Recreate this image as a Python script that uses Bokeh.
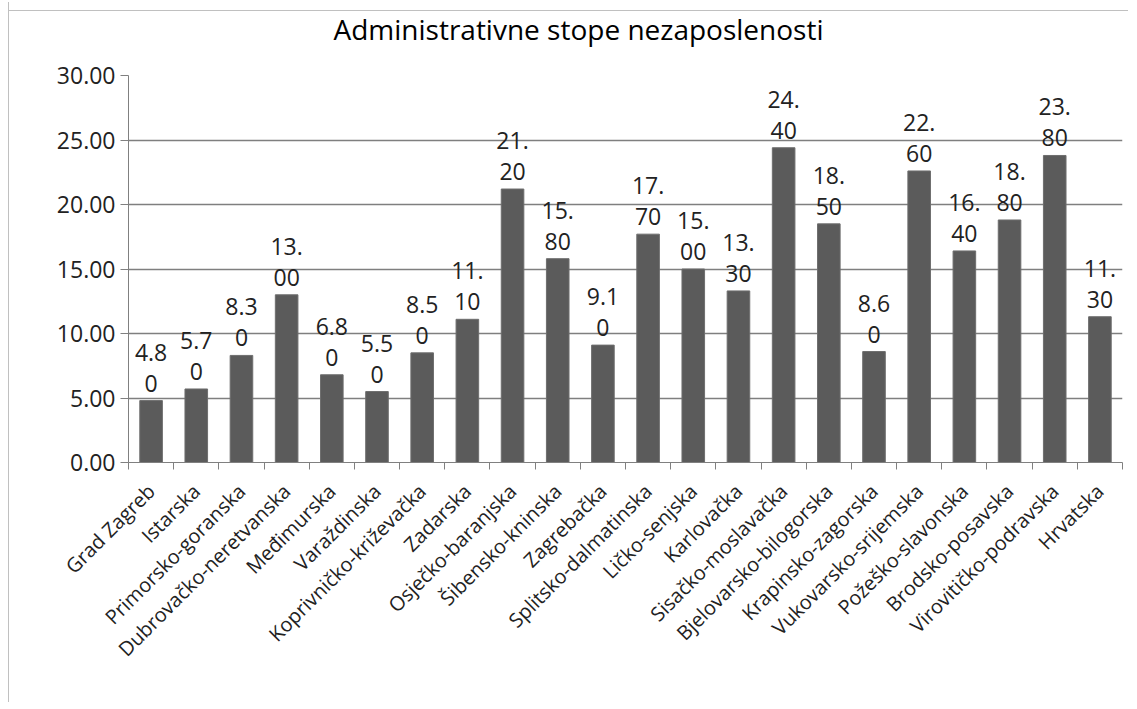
import numpy as np
from bokeh.plotting import figure
from bokeh.models import ColumnDataSource, FixedTicker, Range1d, Title, CustomJSTickFormatter
from bokeh.core.properties import value
from bokeh.embed import file_html
from bokeh.resources import INLINE

categories = ["Grad Zagreb", "Istarska", "Primorsko-goranska", "Dubrovačko-neretvanska",
              "Međimurska", "Varaždinska", "Koprivničko-križevačka", "Zadarska",
              "Osječko-baranjska", "Šibensko-kninska", "Zagrebačka", "Splitsko-dalmatinska",
              "Ličko-senjska", "Karlovačka", "Sisačko-moslavačka", "Bjelovarsko-bilogorska",
              "Krapinsko-zagorska", "Vukovarsko-srijemska", "Požeško-slavonska",
              "Brodsko-posavska", "Virovitičko-podravska", "Hrvatska"]
values = [4.80, 5.70, 8.30, 13.00, 6.80, 5.50, 8.50, 11.10, 21.20, 15.80, 9.10, 17.70,
          15.00, 13.30, 24.40, 18.50, 8.60, 22.60, 16.40, 18.80, 23.80, 11.30]
y_ticks = [0, 5, 10, 15, 20, 25, 30]
title_text = "Administrativne stope nezaposlenosti"

FONT = "Open Sans"
n = len(categories)
centers = [i + 0.5 for i in range(n)]
labels = ["%.2f" % v for v in values]
line1 = [s[:3] for s in labels]
line2 = [s[3:] for s in labels]

src = ColumnDataSource(dict(x=centers, top=values, l1=line1, l2=line2))

p = figure(width=1120, height=700, output_backend="svg", toolbar_location=None,
           x_range=Range1d(0, n), y_range=Range1d(0, 30),
           min_border_left=119, min_border_right=7, min_border_top=73, min_border_bottom=240)
p.title = None
spacer = Title(text=" ", text_font_size="10px", text_color="white")
p.add_layout(spacer, "above")
t = Title(text=title_text, align="left", offset=205, text_font=FONT, text_font_size="28px",
          text_font_style="normal", text_color="#000000")
p.add_layout(t, "above")

p.vbar(x="x", top="top", width=0.5, bottom=0, source=src,
       fill_color="#5b5b5b", line_color="#6e6e6e", line_width=1)

p.text(x="x", y="top", text="l2", source=src, text_align="center", text_baseline="bottom",
       y_offset=-9, text_font=value(FONT), text_font_size="23px", text_color="#222222")
p.text(x="x", y="top", text="l1", source=src, text_align="center", text_baseline="bottom",
       y_offset=-40, text_font=value(FONT), text_font_size="23px", text_color="#222222")

# axes
p.xaxis.ticker = FixedTicker(ticks=centers, minor_ticks=list(range(n + 1)))
p.xaxis.major_label_overrides = {c: lab for c, lab in zip(centers, categories)}
p.xaxis.major_label_orientation = np.pi / 4
p.xaxis.major_tick_line_color = None
p.xaxis.minor_tick_line_color = "#808080"
p.xaxis.minor_tick_out = 7
p.xaxis.minor_tick_in = 0
p.xaxis.axis_line_color = "#808080"
p.xaxis.major_label_text_font = FONT
p.xaxis.major_label_text_font_size = "20px"
p.xaxis.major_label_text_color = "#222222"
p.xaxis.major_label_standoff = 18

p.yaxis.ticker = FixedTicker(ticks=y_ticks)
p.yaxis.formatter = CustomJSTickFormatter(code="return tick.toFixed(2);")
p.yaxis.minor_tick_line_color = None
p.yaxis.major_tick_out = 8
p.yaxis.major_tick_in = 0
p.yaxis.major_tick_line_color = "#808080"
p.yaxis.axis_line_color = "#808080"
p.yaxis.major_label_text_font = FONT
p.yaxis.major_label_text_font_size = "23px"
p.yaxis.major_label_text_color = "#222222"
p.yaxis.major_label_standoff = 5

p.xgrid.grid_line_color = None
p.ygrid.grid_line_color = "#7f7f7f"
p.ygrid.grid_line_width = 1.5
p.outline_line_color = None
p.background_fill_color = "white"
p.border_fill_color = None
p.styles = {"margin-left": "8px", "margin-top": "2px",
            "border-left": "1px solid #c0c0c0",
            "background": "linear-gradient(#c0c0c0, #c0c0c0) 0 8px / 100% 1px no-repeat, white"}

open("out.html", "w").write(file_html(p, INLINE))
